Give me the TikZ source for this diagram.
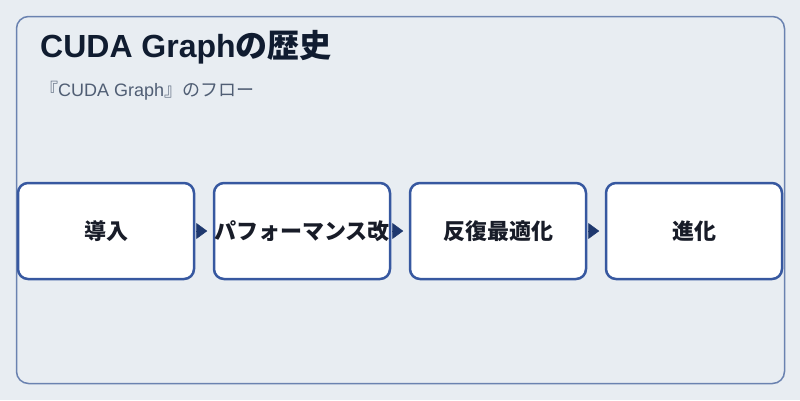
\documentclass[tikz,border=0pt]{standalone}
\usepackage{fontspec}
\setmainfont{Liberation Sans}
\newfontfamily\cjk{Noto Sans CJK JP}
\usetikzlibrary{arrows.meta}
\definecolor{bgc}{RGB}{232,237,242}
\definecolor{framec}{RGB}{106,130,176}
\definecolor{boxc}{RGB}{55,88,160}
\definecolor{arrc}{RGB}{30,56,110}
\definecolor{titlec}{RGB}{16,28,48}
\definecolor{subc}{RGB}{80,94,116}
\definecolor{boxtext}{RGB}{24,28,40}
\tikzset{
  stepbox/.style={draw=boxc, fill=white, line width=2.5pt, rounded corners=10pt,
    minimum width=176pt, minimum height=96pt, inner sep=0pt,
    font=\cjk\fontsize{22}{26}\selectfont\bfseries, text=boxtext},
  flowarrow/.style={draw=arrc, line width=0.5pt, shorten <=3pt, shorten >=5.5pt,
    -{Triangle[length=11pt,width=16pt,fill=arrc]}},
}
\begin{document}
\begin{tikzpicture}[x=1pt,y=-1pt]
\useasboundingbox (0,0) rectangle (800,400);
\fill[bgc] (0,0) rectangle (800,400);
\draw[framec, line width=1.5pt, rounded corners=12pt] (16.5,16.5) rectangle (784.5,383.5);
\node[anchor=base west, text=titlec, font=\fontsize{32}{36}\selectfont\bfseries, inner sep=0pt] (title) at (40,57) {CUDA Graph{\cjk\bfseries の歴史}};
\node[anchor=base west, text=subc, font=\fontsize{18}{22}\selectfont, inner sep=0pt] (sub) at (40,96) {{\cjk 『}CUDA Graph{\cjk 』のフロー}};
\node[stepbox] (b1) at (106,231) {導入};
\node[stepbox] (b2) at (302,231) {パフォーマンス改};
\node[stepbox] (b3) at (498,231) {反復最適化};
\node[stepbox] (b4) at (694,231) {進化};
\draw[flowarrow] (b1.east) -- (b2.west);
\draw[flowarrow] (b2.east) -- (b3.west);
\draw[flowarrow] (b3.east) -- (b4.west);
\end{tikzpicture}
\end{document}
